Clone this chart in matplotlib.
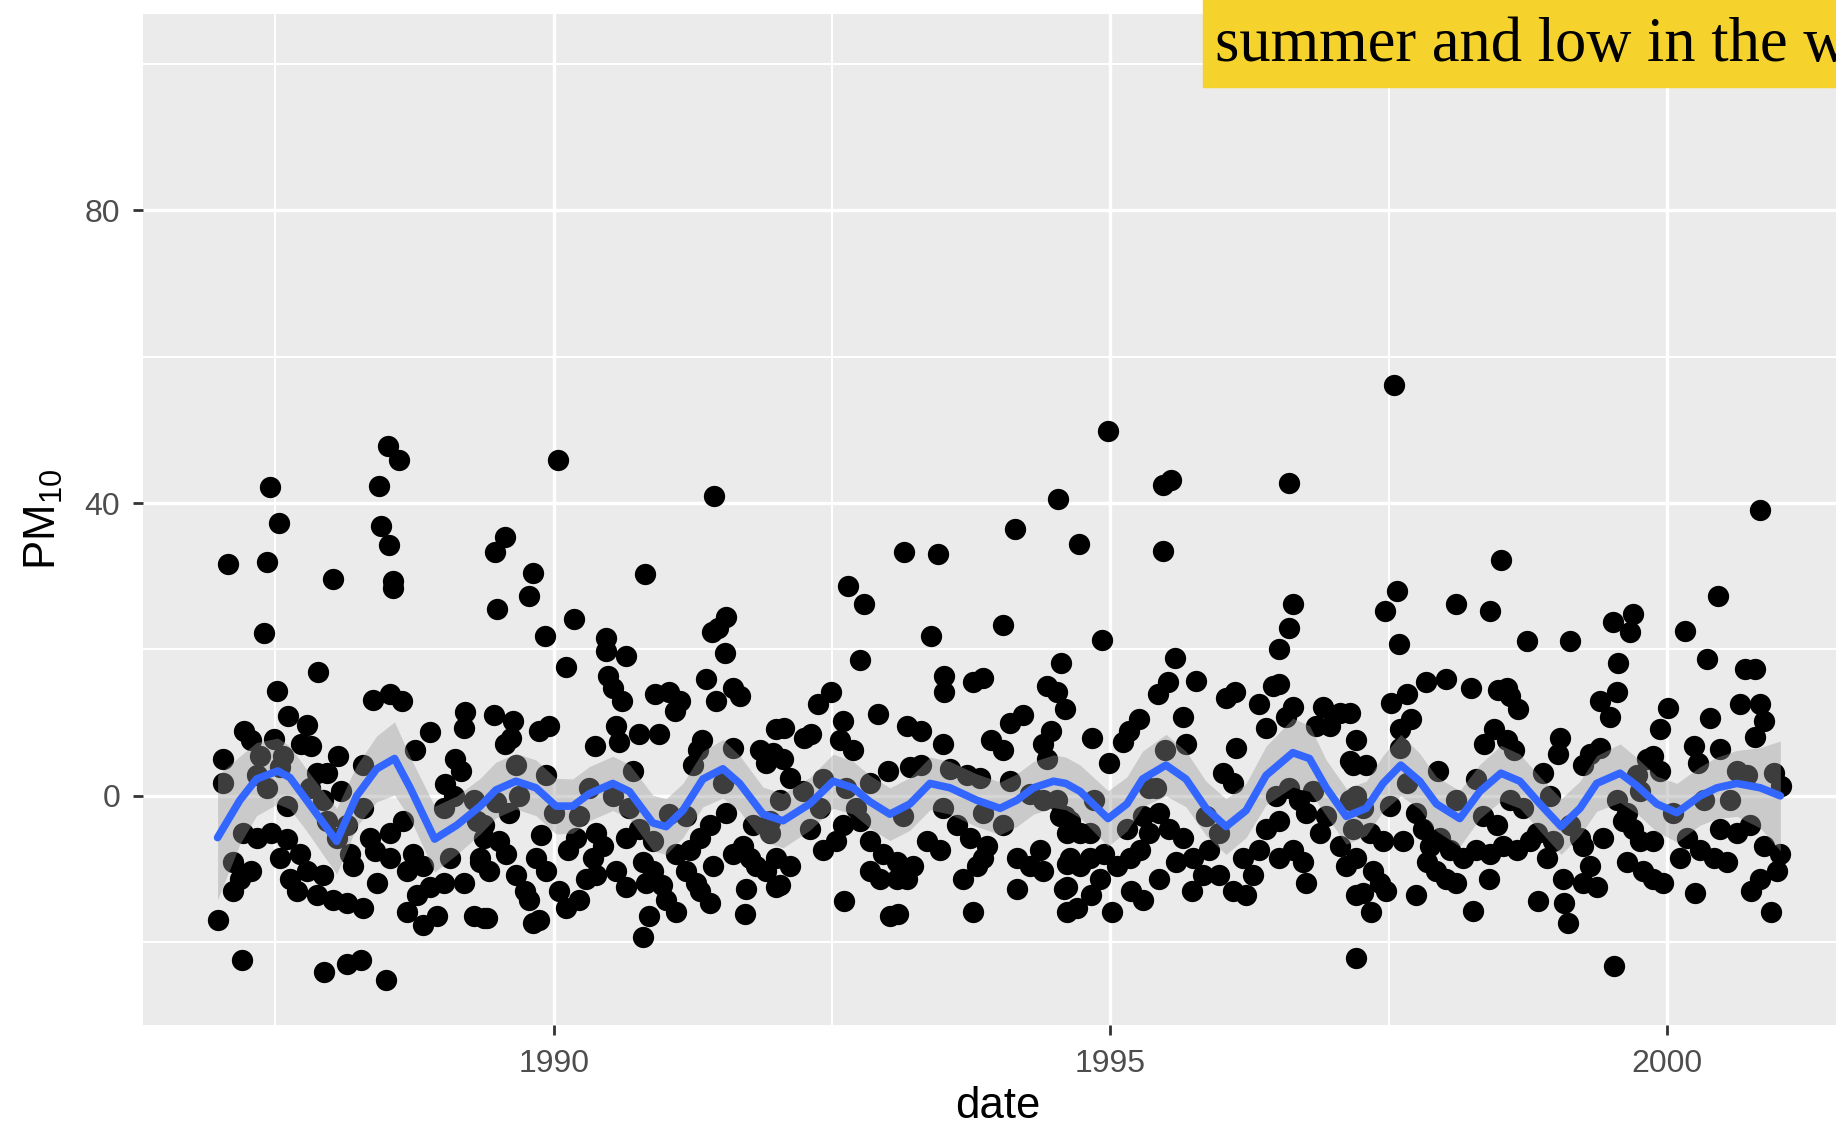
import numpy as np
import matplotlib.pyplot as plt
from matplotlib.patches import Rectangle

plt.rcParams['font.family'] = ['Liberation Sans', 'DejaVu Sans']
plt.rcParams['mathtext.fontset'] = 'custom'
plt.rcParams['mathtext.rm'] = 'Liberation Sans'

# PM10 readings (decimal year, value)
pts_1987_89 = [
    (1988.51, 47.8), (1988.61, 45.9), (1987.45, 42.2), (1988.43, 42.3), (1987.53, 37.3),
    (1988.45, 36.8), (1988.52, 34.3), (1987.07, 31.7), (1987.42, 32.0), (1988.02, 29.6),
    (1988.56, 29.4), (1988.56, 28.4), (1987.40, 22.3), (1987.88, 16.9), (1987.51, 14.3),
    (1988.38, 13.1), (1988.53, 13.9), (1988.64, 12.9), (1987.61, 10.9), (1987.78, 9.7),
    (1987.22, 8.8), (1987.28, 7.6), (1987.49, 7.8), (1987.73, 7.1), (1987.82, 6.8),
    (1987.03, 5.1), (1987.36, 5.5), (1987.57, 5.5), (1988.06, 5.5), (1988.89, 8.7),
    (1988.75, 6.3), (1989.20, 11.4), (1989.19, 9.3), (1989.11, 5.1), (1989.17, 3.4),
    (1987.03, 1.7), (1987.42, 1.1), (1987.87, 3.1), (1987.96, 3.1), (1988.29, 4.2),
    (1989.02, 1.6), (1987.60, -1.4), (1988.09, 0.6), (1988.29, -1.7), (1987.21, -5.1),
    (1987.33, -5.7), (1987.46, -5.1), (1987.60, -5.9), (1987.72, -7.9), (1987.12, -9.1),
    (1987.28, -10.2), (1987.18, -11.3), (1987.12, -13.0), (1987.63, -11.3), (1987.69, -13.0),
    (1987.87, -13.6), (1988.02, -14.2), (1988.14, -14.7), (1988.29, -15.3), (1988.41, -11.9),
    (1988.20, -9.6), (1988.17, -7.9), (1988.39, -7.6), (1988.53, -5.1), (1988.65, -3.4),
    (1988.74, -7.9), (1988.68, -15.9), (1988.83, -17.6), (1988.95, -16.4), (1988.77, -13.6),
    (1988.89, -12.5), (1989.01, -11.9), (1989.28, -16.4), (1989.37, -16.7), (1986.98, -17.0),
    (1987.20, -22.4), (1987.94, -24.1), (1988.14, -22.9), (1988.27, -22.4), (1988.49, -25.2),
    (1989.01, -1.7), (1989.10, 0.0), (1989.31, -3.4), (1989.28, -0.6), (1987.96, -3.4),
    (1988.05, -5.7), (1988.14, -4.0), (1987.81, 1.1), (1987.93, -0.6), (1987.33, 2.8),
    (1987.54, 4.0), (1987.54, -8.5), (1987.78, -10.2), (1987.93, -10.8), (1988.35, -5.7),
    (1988.53, -8.5), (1988.68, -10.2), (1988.83, -9.6), (1989.07, -8.5), (1989.19, -11.9),
    (1989.34, -8.5), (1989.37, -5.7),
]

pts_1989_92 = [
    (1990.04, 45.9), (1991.44, 40.9), (1989.56, 35.4), (1989.47, 33.3), (1989.81, 30.4),
    (1990.82, 30.3), (1989.78, 27.3), (1989.49, 25.5), (1990.18, 24.1), (1991.55, 24.5),
    (1991.42, 22.4), (1991.48, 22.9), (1989.92, 21.8), (1990.47, 21.5), (1990.47, 19.8),
    (1990.65, 19.1), (1990.11, 17.6), (1991.54, 19.5), (1990.49, 16.4), (1990.53, 14.7),
    (1990.61, 13.0), (1990.91, 13.9), (1991.04, 14.2), (1991.13, 13.0), (1991.09, 11.6),
    (1991.37, 15.9), (1991.46, 13.0), (1991.61, 14.7), (1991.67, 13.6), (1989.46, 11.0),
    (1989.63, 10.2), (1989.87, 8.8), (1989.96, 9.6), (1989.56, 7.1), (1989.62, 7.9),
    (1990.56, 9.6), (1990.59, 7.4), (1990.77, 8.5), (1990.95, 8.5), (1990.37, 6.8),
    (1991.33, 7.6), (1991.30, 6.2), (1991.25, 4.2), (1991.61, 6.5), (1991.85, 6.2),
    (1991.91, 4.5), (1992.00, 9.1), (1989.66, 4.2), (1989.93, 2.8), (1989.69, 0.0),
    (1989.48, -0.8), (1990.71, 3.4), (1990.32, 1.1), (1990.53, 0.0), (1991.04, -2.5),
    (1991.52, 1.7), (1991.55, -2.3), (1989.37, -4.0), (1989.51, -6.2), (1989.57, -7.9),
    (1989.89, -5.4), (1989.84, -8.5), (1989.93, -10.2), (1989.34, -9.1), (1989.42, -10.2),
    (1989.66, -10.8), (1989.74, -13.0), (1989.78, -14.2), (1989.40, -16.7), (1989.81, -17.3),
    (1989.87, -17.0), (1990.05, -13.0), (1990.11, -15.3), (1990.23, -14.2), (1990.29, -11.3),
    (1990.13, -7.4), (1990.20, -5.7), (1990.38, -5.1), (1990.44, -6.8), (1990.35, -8.5),
    (1990.38, -10.8), (1990.56, -10.2), (1990.65, -12.5), (1990.65, -5.7), (1990.77, -4.5),
    (1990.80, -9.1), (1990.89, -10.2), (1990.83, -11.9), (1990.97, -12.2), (1991.01, -14.2),
    (1991.10, -15.9), (1990.86, -16.4), (1990.80, -19.3), (1990.89, -6.2), (1991.10, -7.9),
    (1991.22, -7.4), (1991.31, -5.7), (1991.19, -10.2), (1991.28, -11.9), (1991.31, -13.0),
    (1991.40, -14.7), (1991.43, -9.6), (1991.61, -7.9), (1991.70, -6.8), (1991.76, -8.5),
    (1991.82, -9.6), (1991.91, -10.2), (1992.00, -12.5), (1991.73, -12.7), (1991.72, -16.1),
    (1989.60, -2.3), (1990.00, -2.3), (1990.23, -2.8), (1990.68, -1.7), (1991.19, -2.8),
    (1991.40, -4.0), (1991.79, -4.0), (1991.94, -5.1),
]

pts_1992_94 = [
    (1994.53, 40.5), (1994.14, 36.5), (1993.15, 33.3), (1993.45, 33.0), (1992.64, 28.6),
    (1992.79, 26.2), (1994.04, 23.3), (1993.39, 21.8), (1992.75, 18.6), (1994.56, 18.1),
    (1993.51, 16.4), (1993.51, 14.2), (1993.77, 15.6), (1993.86, 16.1), (1992.49, 14.2),
    (1992.37, 12.5), (1992.91, 11.2), (1994.43, 15.0), (1994.52, 14.2), (1994.59, 11.9),
    (1992.07, 9.3), (1992.25, 7.9), (1992.31, 8.5), (1992.60, 10.2), (1992.57, 7.6),
    (1992.69, 6.2), (1993.17, 9.6), (1993.30, 8.8), (1993.50, 7.1), (1994.10, 9.9),
    (1994.22, 11.0), (1994.04, 6.2), (1993.93, 7.6), (1994.47, 8.8), (1994.40, 7.1),
    (1991.97, 5.9), (1992.06, 5.1), (1992.12, 2.5), (1992.42, 2.3), (1992.63, 1.1),
    (1992.84, 1.7), (1993.00, 3.4), (1993.20, 4.0), (1993.30, 4.2), (1993.56, 3.7),
    (1993.71, 2.8), (1993.83, 2.5), (1994.10, 2.0), (1994.28, 0.3), (1994.43, 5.1),
    (1994.40, -0.6), (1992.03, -0.6), (1992.24, 0.6), (1991.94, -3.4), (1992.30, -4.5),
    (1992.42, -7.4), (1992.54, -6.2), (1992.60, -4.0), (1992.75, -3.4), (1992.84, -6.2),
    (1992.96, -7.9), (1993.08, -9.1), (1993.23, -9.6), (1993.35, -6.2), (1993.47, -7.4),
    (1993.62, -4.0), (1993.74, -5.7), (1993.89, -6.8), (1994.04, -4.0), (1994.16, -8.5),
    (1994.28, -9.6), (1994.37, -7.4), (1994.40, -10.2), (1992.00, -8.5), (1992.12, -9.6),
    (1992.03, -12.2), (1992.84, -10.2), (1992.93, -11.3), (1993.08, -11.3), (1993.17, -11.3),
    (1993.68, -11.3), (1993.80, -9.6), (1993.86, -8.5), (1992.61, -14.4), (1993.02, -16.4),
    (1993.09, -16.1), (1993.77, -15.9), (1994.16, -12.7), (1994.58, -12.7), (1994.61, -15.9),
    (1994.59, -2.8), (1994.61, -5.1), (1994.61, -9.3), (1993.14, -2.8), (1993.50, -1.7),
    (1993.86, -2.3), (1992.39, -1.7), (1992.72, -1.7), (1994.52, -0.6),
]

pts_1994_97 = [
    (1994.98, 49.9), (1995.47, 42.5), (1995.55, 43.1), (1996.61, 42.8), (1994.72, 34.4),
    (1995.47, 33.5), (1996.64, 26.2), (1996.61, 22.9), (1994.93, 21.3), (1996.52, 20.1),
    (1995.58, 18.8), (1995.77, 15.7), (1995.52, 15.6), (1995.43, 13.9), (1996.04, 13.3),
    (1996.12, 14.2), (1996.46, 15.0), (1996.52, 15.3), (1996.34, 12.5), (1996.64, 12.2),
    (1996.58, 10.8), (1996.40, 9.3), (1996.91, 12.2), (1997.06, 11.3), (1996.97, 9.6),
    (1996.85, 9.6), (1997.21, 7.6), (1995.26, 10.5), (1995.17, 8.8), (1995.11, 7.4),
    (1995.65, 10.8), (1995.68, 7.1), (1994.84, 7.9), (1994.99, 4.5), (1995.49, 6.2),
    (1995.41, 1.1), (1996.13, 6.5), (1996.01, 3.1), (1996.10, 1.7), (1997.18, 4.2),
    (1997.21, 0.0), (1994.55, -2.8), (1994.64, -3.4), (1994.73, -5.1), (1994.82, -5.1),
    (1994.64, -8.5), (1994.73, -9.6), (1994.82, -8.5), (1994.94, -7.9), (1995.06, -9.6),
    (1995.18, -8.5), (1995.27, -7.4), (1994.61, -12.5), (1994.70, -15.3), (1994.83, -13.6),
    (1995.02, -15.9), (1995.19, -13.0), (1995.29, -14.2), (1995.29, -2.8), (1995.35, -5.1),
    (1995.44, -2.3), (1995.53, -4.5), (1995.65, -5.7), (1995.59, -9.1), (1995.74, -8.5),
    (1995.83, -10.8), (1995.89, -7.4), (1995.73, -13.0), (1995.98, -10.8), (1996.10, -13.0),
    (1996.22, -13.6), (1996.28, -10.8), (1996.19, -8.5), (1996.34, -7.4), (1996.40, -4.5),
    (1996.52, -3.4), (1996.49, 0.0), (1996.61, 1.1), (1996.70, -0.6), (1996.76, -2.3),
    (1996.52, -8.5), (1996.64, -7.4), (1996.73, -9.1), (1996.76, -11.9), (1996.88, -5.1),
    (1996.94, -2.8), (1997.06, -6.8), (1997.12, -9.6), (1997.21, -13.6), (1997.21, -22.1),
    (1995.35, 1.1), (1994.85, -0.6), (1995.86, -2.8), (1995.98, -5.1), (1995.15, -4.5),
    (1994.91, -11.3), (1995.44, -11.3), (1996.82, 0.6),
]

pts_1997_99 = [
    (1997.55, 56.1), (1998.51, 32.2), (1997.58, 28.0), (1997.47, 25.2), (1998.11, 26.2),
    (1998.41, 25.2), (1999.52, 23.8), (1999.70, 24.9), (1999.67, 22.4), (1997.59, 20.7),
    (1998.74, 21.1), (1999.13, 21.1), (1999.56, 18.1), (1997.84, 15.6), (1998.02, 15.9),
    (1998.24, 14.7), (1997.67, 13.9), (1997.52, 12.7), (1998.48, 14.4), (1998.56, 14.7),
    (1998.59, 13.6), (1998.66, 11.9), (1999.40, 13.0), (1999.55, 14.2), (1999.49, 10.8),
    (1997.15, 11.3), (1997.70, 10.5), (1997.60, 9.1), (1998.45, 9.1), (1998.36, 7.1),
    (1998.56, 7.6), (1998.63, 6.2), (1999.04, 7.9), (1999.02, 5.7), (1999.40, 6.5),
    (1999.31, 5.7), (1999.25, 4.2), (1997.15, 4.8), (1997.30, 4.2), (1997.94, 3.4),
    (1998.89, 3.1), (1998.29, 2.3), (1997.60, 6.5), (1997.67, 1.7), (1997.15, -0.6),
    (1997.27, -1.7), (1997.51, -1.4), (1997.18, -4.5), (1997.33, -5.1), (1997.45, -6.2),
    (1997.63, -6.2), (1997.75, -2.3), (1997.81, -4.5), (1997.87, -6.8), (1997.21, -8.5),
    (1997.36, -10.2), (1997.42, -11.9), (1997.48, -13.0), (1997.27, -13.3), (1997.34, -15.9),
    (1997.75, -13.6), (1997.85, -9.1), (1997.93, -10.2), (1998.02, -11.3), (1998.11, -11.9),
    (1998.17, -8.5), (1998.29, -7.4), (1998.41, -7.9), (1998.53, -6.8), (1998.65, -7.4),
    (1998.77, -6.2), (1998.83, -5.1), (1998.92, -8.5), (1998.05, -7.4), (1997.96, -5.7),
    (1998.40, -11.3), (1998.26, -15.7), (1998.84, -14.4), (1998.59, -0.6), (1998.71, -1.7),
    (1998.47, -4.0), (1998.35, -2.8), (1999.07, -11.3), (1999.08, -14.7), (1999.11, -17.3),
    (1999.31, -9.6), (1999.25, -11.9), (1999.37, -12.5), (1999.13, -4.0), (1999.22, -5.7),
    (1999.25, -6.8), (1999.55, -0.6), (1999.64, -2.3), (1999.70, -4.5), (1999.76, -6.2),
    (1999.79, -10.2), (1999.64, -9.1), (1999.53, -23.3), (1999.61, -3.4), (1999.73, 2.8),
    (1999.82, 5.1), (1998.95, 0.0), (1998.11, -0.6), (1998.98, -6.2), (1999.43, -5.7),
]

pts_1999_01 = [
    (2000.84, 39.1), (2000.46, 27.3), (2000.16, 22.5), (2000.36, 18.7), (2000.70, 17.3),
    (2000.79, 17.3), (2000.01, 12.0), (1999.94, 9.2), (2000.39, 10.6), (2000.66, 12.5),
    (2000.84, 12.5), (2000.87, 10.2), (2000.79, 8.0), (2000.24, 6.8), (2000.28, 4.5),
    (2000.48, 6.4), (1999.88, 5.4), (1999.94, 3.4), (2000.96, 3.1), (2001.03, 1.4),
    (2000.63, 3.4), (2000.72, 2.8), (1999.88, -6.2), (1999.88, -11.3), (1999.97, -11.9),
    (2000.18, -5.7), (2000.30, -7.4), (2000.42, -8.5), (2000.54, -9.1), (2000.63, -5.1),
    (2000.75, -4.0), (2000.48, -4.5), (2000.25, -13.3), (2000.87, -6.8), (2001.02, -7.9),
    (2000.99, -10.2), (2000.84, -11.3), (2000.76, -13.0), (2000.94, -15.9), (2000.06, -2.3),
    (2000.33, -0.6), (2000.57, -0.6), (2000.12, -8.5), (1999.76, 0.6),
]

# blue smoother and its standard-error half width
smooth_year = [1986.98, 1987.18, 1987.33, 1987.52, 1987.63, 1987.78, 1988.05, 1988.23,
               1988.41, 1988.57, 1988.71, 1988.93, 1989.13, 1989.34, 1989.48, 1989.66,
               1989.84, 1990.02, 1990.17, 1990.32, 1990.53, 1990.68, 1990.89, 1991.01,
               1991.16, 1991.34, 1991.52, 1991.67, 1991.88, 1992.06, 1992.30, 1992.51,
               1992.69, 1992.84, 1993.02, 1993.20, 1993.38, 1993.56, 1993.80, 1994.01,
               1994.16, 1994.31, 1994.49, 1994.60, 1994.73, 1994.98, 1995.15, 1995.29,
               1995.50, 1995.68, 1995.86, 1996.04, 1996.22, 1996.40, 1996.64, 1996.79,
               1996.94, 1997.12, 1997.30, 1997.45, 1997.61, 1997.78, 1997.93, 1998.14,
               1998.32, 1998.51, 1998.68, 1998.86, 1999.05, 1999.22, 1999.37, 1999.58,
               1999.73, 1999.91, 2000.09, 2000.30, 2000.45, 2000.63, 2000.84, 2001.02]
smooth_pm = [-5.7, -0.6, 2.3, 3.4, 2.5, -0.6, -6.2, 0.0,
             3.7, 5.1, 1.1, -5.9, -4.0, -1.4, 0.8, 2.0,
             1.1, -1.4, -1.4, 0.3, 1.7, 0.6, -3.7, -4.2,
             -2.0, 2.3, 3.7, 1.7, -2.5, -3.4, -1.1, 2.0,
             1.1, -0.8, -2.5, -1.1, 1.7, 1.1, -0.6, -1.7,
             -0.6, 1.1, 2.0, 1.7, 0.6, -3.1, -1.1, 2.3,
             4.2, 2.3, -1.7, -4.2, -2.0, 2.8, 5.9, 5.1,
             1.1, -2.8, -1.7, 1.7, 4.2, 2.0, -1.1, -3.1,
             0.6, 3.1, 2.0, -1.1, -4.2, -1.7, 1.7, 3.1,
             1.4, -1.1, -2.3, 0.0, 1.1, 1.7, 1.1, 0.0]
smooth_se = [8.5, 6.0, 5.0, 4.5, 4.3, 4.2, 4.5, 4.2,
             4.5, 5.0, 4.2, 4.5, 4.0, 3.8, 3.8, 3.8,
             3.8, 3.8, 3.7, 3.7, 3.7, 3.7, 3.8, 3.8,
             3.7, 3.8, 4.0, 3.8, 3.7, 3.7, 3.6, 3.7,
             3.6, 3.6, 3.6, 3.6, 3.6, 3.6, 3.6, 3.6,
             3.6, 3.6, 3.6, 3.6, 3.6, 3.8, 3.7, 3.8,
             4.2, 3.8, 3.7, 3.8, 3.7, 4.0, 4.7, 4.5,
             3.8, 3.8, 3.7, 3.8, 4.2, 3.8, 3.7, 3.8,
             3.7, 3.8, 3.7, 3.7, 3.8, 3.7, 3.8, 4.0,
             3.8, 3.8, 4.0, 4.0, 4.2, 4.5, 5.5, 7.5]

x_ticks = [1990, 1995, 2000]
x_minor = [1987.5, 1992.5, 1997.5]
y_ticks = [0, 40, 80]
y_minor = [-20, 20, 60, 100]

pts = np.array(pts_1987_89 + pts_1989_92 + pts_1992_94 + pts_1994_97 + pts_1997_99 + pts_1999_01)
sy = np.array(smooth_year)
sp = np.array(smooth_pm)
se = np.array(smooth_se)

W, H = 1836, 1126
fig = plt.figure(figsize=(W / 100, H / 100), dpi=100)
ax = fig.add_axes([143 / W, 101 / H, 1693 / W, 1011 / H])
ax.set_facecolor('#EBEBEB')
for s in ax.spines.values():
    s.set_visible(False)

ax.scatter(pts[:, 0], pts[:, 1], s=235, color='black', linewidths=0, zorder=2)
ax.fill_between(sy, sp - se, sp + se, color='#999999', alpha=0.4, linewidth=0, zorder=3)
ax.plot(sy, sp, color='#3366FF', lw=5.5, zorder=4, solid_joinstyle='round',
        solid_capstyle='round')

ax.set_xlim(1986.31, 2001.52)
ax.set_ylim(-31.3, 106.8)
ax.set_xticks(x_ticks)
ax.set_xticklabels([str(t) for t in x_ticks])
ax.set_xticks(x_minor, minor=True)
ax.set_yticks(y_ticks)
ax.set_yticklabels([str(t) for t in y_ticks])
ax.set_yticks(y_minor, minor=True)
ax.set_axisbelow(True)
ax.grid(which='major', color='white', lw=2.4)
ax.grid(which='minor', color='white', lw=1.5)
ax.tick_params(which='major', length=7.5, width=2, color='#333333',
               labelsize=23, labelcolor='#4D4D4D')
ax.tick_params(axis='y', pad=9)
ax.tick_params(axis='x', pad=10)
ax.tick_params(which='minor', length=0)

ax.set_xlabel('date', fontsize=31.5)
ax.set_ylabel(r'PM$_{10}$', fontsize=31.5)
ax.xaxis.set_label_coords((998 - 143) / 1693, (1025 - 1107) / 1011)
ax.xaxis.label.set_va('center')
ax.yaxis.set_label_coords((44 - 143) / 1693, 0.5)
ax.yaxis.label.set_va('center')

# yellow caption strip, cut off by the right edge as in the source slide
fig.add_artist(Rectangle((1203 / W, 1 - 87 / H), 1, 87 / H, transform=fig.transFigure,
                         color='#F5D22C', zorder=5))
fig.text(1215 / W, 1 - 61 / H, 'summer and low in the winter', family='Liberation Serif',
         fontsize=45, va='baseline', ha='left', color='black', zorder=6)

fig.savefig('out.png', dpi=100)
